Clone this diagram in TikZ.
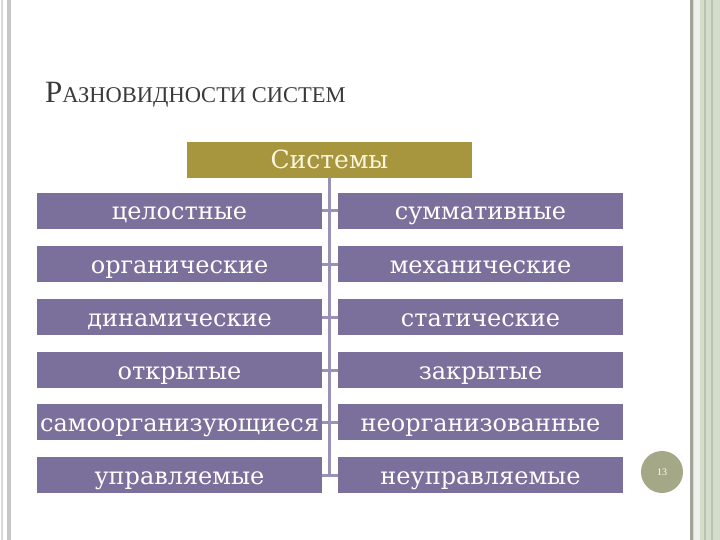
\documentclass[tikz,border=0pt]{standalone}
\usepackage{fontspec}
\setmainfont{Liberation Serif}
\newfontfamily\boxfont{DejaVu Serif}
\usepackage{tikz}
\usetikzlibrary{positioning,calc}
\definecolor{kind}{HTML}{7B6F9B}
\definecolor{head}{HTML}{A8963E}
\definecolor{cream}{HTML}{FAF5DC}
\definecolor{spine}{HTML}{9A90B8}
\definecolor{sage}{HTML}{A5A886}
\definecolor{panel}{HTML}{D4DCCA}
\definecolor{ink}{HTML}{3A3A3A}

\begin{document}
\begin{tikzpicture}[x=1pt, y=-1pt,
  kindbox/.style={rectangle, fill=kind, minimum width=285pt, minimum height=36pt, inner sep=0pt,
    text height=18pt, text depth=0pt, text=white, font=\boxfont\fontsize{24}{28}\selectfont},
  headbox/.style={rectangle, fill=head, minimum width=285pt, minimum height=36pt, inner sep=0pt,
    text height=18pt, text depth=0pt, text=cream, font=\boxfont\fontsize{25}{29}\selectfont},
  link/.style={draw=spine, line width=3pt}
]
  \useasboundingbox (0,0) rectangle (720,540);
  \fill[white] (0,0) rectangle (720,540);
  % slide frame
  \fill[black!22] (7,0) rectangle (11,540);
  \fill[black!15] (1,0) rectangle (2.5,540);
  \fill[panel] (690,0) rectangle (720,540);
  \fill[black!25!panel] (690,0) rectangle (692.5,540);
  \fill[panel!40] (693.5,0) rectangle (700,540);
  \fill[black!12!panel] (704,0) rectangle (706,540);
  \fill[black!12!panel] (711,0) rectangle (713,540);

  \node[anchor=base west, text=ink, inner sep=0pt] (title) at (45,103)
    {\fontsize{31}{34}\selectfont Р\fontsize{22.5}{25}\selectfont АЗНОВИДНОСТИ СИСТЕМ};

  \node[headbox] (sys) at (329.5,160) {Системы};

  \node[kindbox] (whole)  at (179.5,211) {целостные};
  \node[kindbox] (summ)   at (480.5,211) {суммативные};
  \node[kindbox] (organ)  at (179.5,264) {органические};
  \node[kindbox] (mech)   at (480.5,264) {механические};
  \node[kindbox] (dyn)    at (179.5,317) {динамические};
  \node[kindbox] (stat)   at (480.5,317) {статические};
  \node[kindbox] (open)   at (179.5,370) {открытые};
  \node[kindbox] (closed) at (480.5,370) {закрытые};
  \node[kindbox] (selforg) at (179.5,422) {самоорганизующиеся};
  \node[kindbox] (unorg)  at (480.5,422) {неорганизованные};
  \node[kindbox] (ctrl)   at (179.5,475) {управляемые};
  \node[kindbox] (unctrl) at (480.5,475) {неуправляемые};

  \coordinate (foot) at (329.5,475);
  \draw[link] (sys.south) -- (foot);
  \draw[link] (whole.east) -- (summ.west);
  \draw[link] (organ.east) -- (mech.west);
  \draw[link] (dyn.east) -- (stat.west);
  \draw[link] (open.east) -- (closed.west);
  \draw[link] (selforg.east) -- (unorg.west);
  \draw[link] (ctrl.east) -- (unctrl.west);

  \node[circle, fill=sage, minimum size=42pt, inner sep=0pt, text=white,
    font=\fontsize{10}{12}\selectfont] (page) at (662,472) {13};
\end{tikzpicture}
\end{document}
